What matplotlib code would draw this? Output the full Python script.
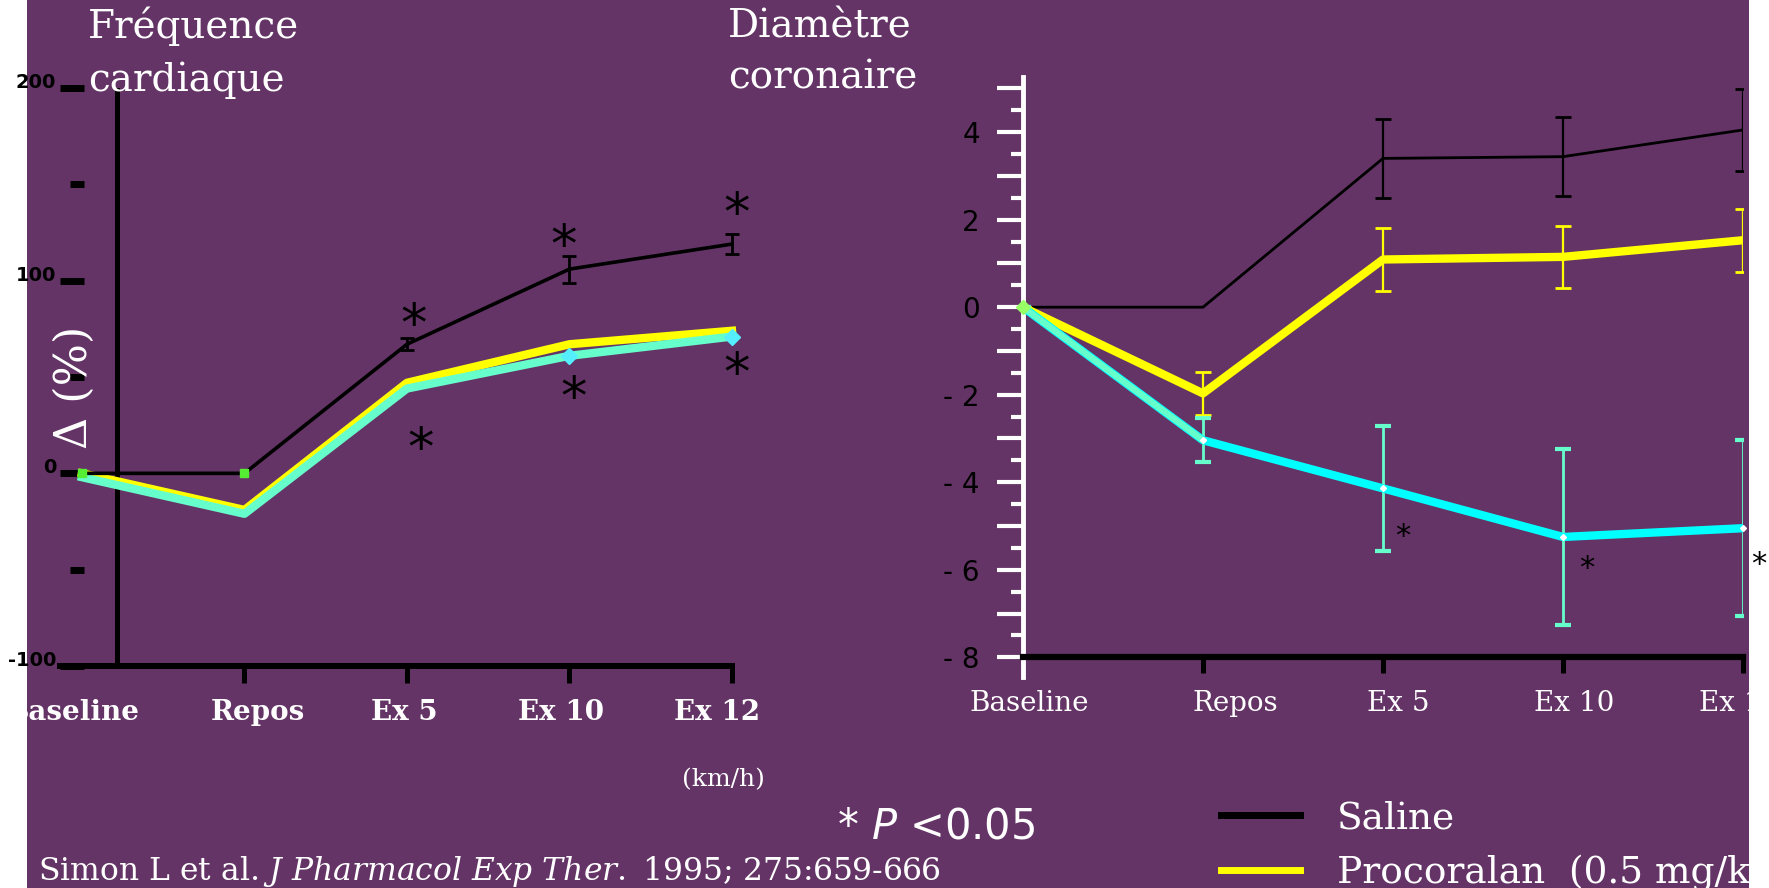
import numpy as np
import matplotlib
matplotlib.use('Agg')
import matplotlib.pyplot as plt
import matplotlib.transforms as mtransforms
from matplotlib.patches import Rectangle
from matplotlib.lines import Line2D
from matplotlib.ticker import MultipleLocator

plt.rcParams['font.family'] = 'DejaVu Serif'
plt.rcParams['axes.unicode_minus'] = False
plt.rcParams['mathtext.fontset'] = 'custom'
plt.rcParams['mathtext.rm'] = 'DejaVu Serif'
plt.rcParams['mathtext.it'] = 'DejaVu Serif:italic'
plt.rcParams['mathtext.sf'] = 'DejaVu Sans:italic'

# categories
stages = ['Baseline', 'Repos', 'Ex 5', 'Ex 10', 'Ex 12']

# Fréquence cardiaque, % change
fc_saline = [0, 0, 67, 106, 119]
fc_saline_err = [0, 0, 3, 7, 5]
fc_procoralan = [0, -19, 47, 67, 74]
fc_third = [-2, -21, 44, 61, 71]
fc_yticks = [-100, 0, 100, 200]
fc_yminor = [-50, 50, 150]

# Diamètre coronaire, % change
dc_saline = [0, 0, 3.4, 3.44, 4.05]
dc_saline_err = [0, 0, 0.91, 0.91, 0.93]
dc_procoralan = [0, -1.97, 1.09, 1.15, 1.53]
dc_procoralan_err = [0, 0.49, 0.71, 0.70, 0.72]
dc_third = [0, -3.04, -4.14, -5.25, -5.05]
dc_third_err = [0, 0.5, 1.42, 2.01, 2.01]
dc_ylabels = [-8, -6, -4, -2, 0, 2, 4]

legend_labels = ['Saline', 'Procoralan  (0.5 mg/kg)']

PURPLE = '#643466'
YELLOW = '#FFFF00'
AQUA = '#66FFCC'
CYAN = '#00FFFF'

W, H = 1769, 888
fig = plt.figure(figsize=(W / 100, H / 100), dpi=100)
fig.patch.set_facecolor('white')
fig.add_artist(Rectangle((27 / W, 0), (1749 - 27) / W, 1, transform=fig.transFigure,
                         facecolor=PURPLE, edgecolor='none', zorder=-10))


def px_axes(l, t, r, b):
    return fig.add_axes([l / W, 1 - b / H, (r - l) / W, (b - t) / H])


def nudge_labels(labels, shifts):
    # shift tick labels sideways (pixels), as in the original slide
    for lbl, dx in zip(labels, shifts):
        off = mtransforms.ScaledTranslation(dx / 100, 0, fig.dpi_scale_trans)
        lbl.set_transform(lbl.get_transform() + off)


x = np.arange(len(stages))

# ---- left panel: heart rate
ax1 = px_axes(60, 88, 732, 666)
ax1.set_facecolor('none')
ax1.set_xlim(-0.135, 4.0)
ax1.set_ylim(-100, 200)
for s in ['top', 'right']:
    ax1.spines[s].set_visible(False)
ax1.spines['left'].set_position(('data', 0.012))
ax1.spines['left'].set_color('none')
ax1.spines['bottom'].set_linewidth(4.3)
ax1.axvline(0.215, color='k', lw=3.6, zorder=2)

ax1.set_yticks(fc_yticks)
ax1.set_yticks(fc_yminor, minor=True)
ax1.tick_params(axis='y', which='major', length=17, width=5, color='k', pad=3, labelsize=14)
ax1.tick_params(axis='y', which='minor', length=10, width=5, color='k')
for lbl in ax1.get_yticklabels():
    lbl.set_fontfamily('DejaVu Sans')
    lbl.set_fontweight('bold')
    lbl.set_va('baseline')

ax1.set_xticks(x)
ax1.set_xticklabels(stages, fontweight='bold')
ax1.tick_params(axis='x', length=12, width=3.6, color='k', pad=12, labelsize=20, labelcolor='white')
ax1.xaxis.get_major_ticks()[0].tick1line.set_visible(False)
nudge_labels(ax1.get_xticklabels(), [-9, 13, -3, -8, -15])

ax1.plot(x, fc_procoralan, color=YELLOW, lw=6, zorder=3, clip_on=False)
ax1.plot(x, fc_third, color=AQUA, lw=6, zorder=4, clip_on=False)
ax1.plot(x[3:], fc_third[3:], 'D', color='#55EEFF', ms=8, zorder=4, clip_on=False)
ax1.errorbar(x, fc_saline, yerr=fc_saline_err, color='k', lw=2.6, elinewidth=2, capsize=5,
             capthick=2, errorevery=(2, 1), zorder=5, clip_on=False)
ax1.plot(x[:2], fc_saline[:2], 's', color='#55EE33', ms=6, zorder=6, clip_on=False)

star_kw = dict(ha='center', va='center', color='k', family='DejaVu Sans',
               textcoords='offset points', annotation_clip=False)
for i, off in zip([2, 3, 4], [(5, 13), (-4, 16), (3, 21)]):
    ax1.annotate('*', (x[i], fc_saline[i]), xytext=off, fontsize=38, **star_kw)
for i, off in zip([2, 3, 4], [(10, -44), (3, -31), (3, -28)]):
    ax1.annotate('*', (x[i], fc_third[i]), xytext=off, fontsize=38, **star_kw)

# ---- right panel: coronary diameter
ax2 = px_axes(1023, 77, 1743, 677)
ax2.set_facecolor('none')
ax2.set_xlim(0, 4)
ax2.set_ylim(-8.45, 5.26)
for s in ['top', 'right']:
    ax2.spines[s].set_visible(False)
ax2.spines['left'].set_color('white')
ax2.spines['left'].set_linewidth(3.5)
ax2.spines['bottom'].set_position(('data', -8))
ax2.spines['bottom'].set_linewidth(4.5)

yt = np.arange(-8, 6)
ax2.set_yticks(yt)
ax2.set_yticklabels([('- %d' % -v if v < 0 else '%d' % v) if v in dc_ylabels else '' for v in yt],
                    family='DejaVu Sans')
ax2.yaxis.set_minor_locator(MultipleLocator(0.5))
ax2.tick_params(axis='y', which='major', length=19, width=3, color='white', labelcolor='k',
                labelsize=20, pad=12)
ax2.tick_params(axis='y', which='minor', length=9, width=3, color='white')

ax2.set_xticks(x)
ax2.set_xticklabels(stages)
ax2.tick_params(axis='x', length=11.5, width=3.6, color='k', pad=12, labelsize=20, labelcolor='white')
ax2.xaxis.get_major_ticks()[0].tick1line.set_visible(False)
nudge_labels(ax2.get_xticklabels(), [6, 32, 15, 11, -4])

ax2.errorbar(x, dc_saline, yerr=dc_saline_err, color='k', lw=2, elinewidth=1.6, capsize=6,
             capthick=2, errorevery=(2, 1), zorder=3)
ax2.errorbar(x, dc_procoralan, yerr=dc_procoralan_err, color=YELLOW, lw=6, elinewidth=1.6,
             capsize=6, capthick=2, zorder=4)
ax2.errorbar(x, dc_third, yerr=dc_third_err, color=CYAN, ecolor=AQUA, lw=6, elinewidth=2,
             capsize=6, capthick=3, zorder=5)
ax2.plot(x[:2], dc_third[:2], color=AQUA, lw=4.5, zorder=6)
ax2.plot(x[1:], dc_third[1:], 'D', color='white', ms=3, zorder=7, clip_on=False)
ax2.plot(x[:1], dc_third[:1], 'D', color='#99FF66', ms=7, zorder=7, clip_on=False)

for i, off in zip([2, 3, 4], [(14, -35), (17, -23), (11, -26)]):
    ax2.annotate('*', (x[i], dc_third[i]), xytext=off, fontsize=22, **star_kw)

# ---- texts
fig.text(88 / W, 1 - 7 / H, 'Fréquence\ncardiaque', color='white', fontsize=28,
         ha='left', va='top', linespacing=1.5)
fig.text(728 / W, 1 - 8 / H, 'Diamètre\ncoronaire', color='white', fontsize=28,
         ha='left', va='top', linespacing=1.5)
fig.text(74 / W, 1 - 387 / H, 'Δ (%)', rotation=90, ha='center', va='center',
         fontsize=32, color='white')
fig.text(723 / W, 1 - 780 / H, '(km/h)', ha='center', va='center', fontsize=18, color='white')
fig.text(936 / W, 1 - 826 / H, r'* $\mathsf{P}$ <0.05', family='DejaVu Sans', ha='center',
         va='center', fontsize=30, color='white')
fig.text(38 / W, 1 - 880 / H,
         r'Simon L et al. $\mathit{J\ Pharmacol\ Exp\ Ther.}$ 1995; 275:659-666',
         ha='left', va='baseline', fontsize=22.6, color='white')

handles = [Line2D([], [], color='k', lw=5), Line2D([], [], color=YELLOW, lw=5)]
fig.legend(handles, legend_labels, loc='upper left', bbox_to_anchor=(1221 / W, 1 - 800 / H),
           frameon=False, fontsize=27, labelcolor='white', handlelength=2.1,
           handletextpad=1.0, labelspacing=0.5, borderpad=0, borderaxespad=0)

fig.savefig('out.png', dpi=100)
